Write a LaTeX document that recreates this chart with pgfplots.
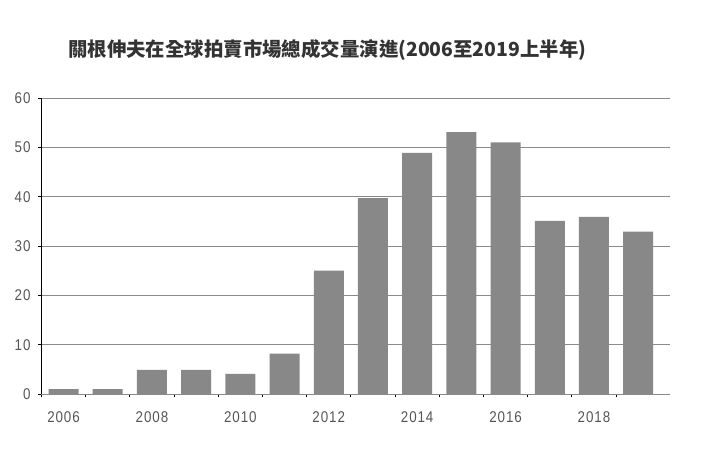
\documentclass[border=0pt]{standalone}
\usepackage{pgfplots}
\pgfplotsset{compat=1.18}
\usepackage{fontspec}
\setmainfont{Liberation Sans}
\newfontfamily\tickfont[FakeStretch=0.86,LetterSpace=6]{Liberation Sans}
\newfontfamily\cjk{Noto Sans CJK TC}
\definecolor{bargray}{HTML}{888888}
\definecolor{gridgray}{HTML}{8A8A8A}
\definecolor{labelgray}{HTML}{555555}
\definecolor{titlegray}{HTML}{333333}
\begin{document}
\begin{tikzpicture}[x=1bp,y=1bp]
\useasboundingbox (0,0) rectangle (712,451);
\begin{axis}[
  at={(41bp,57bp)}, anchor=south west,
  scale only axis, width=629bp, height=296bp,
  xmin=2005.49, xmax=2019.72, ymin=0, ymax=60,
  axis x line*=bottom, axis y line*=left,
  axis line style={-},
  x axis line style={gridgray, line width=0.9bp},
  y axis line style={black, line width=1bp},
  ymajorgrids, grid style={gridgray, line width=0.9bp},
  xtick={2006,2008,...,2018},
  minor xtick={2005.5,2006.5,...,2018.5},
  ytick={0,10,...,60},
  tick align=outside,
  major tick length=3bp, minor tick length=3.5bp,
  major x tick style={draw=none},
  minor x tick style={black, line width=0.8bp},
  major y tick style={black, line width=0.8bp},
  /pgf/number format/assume math mode=true,
  /pgf/number format/1000 sep={},
  tick label style={font=\tickfont\fontsize{15.6}{16}\selectfont, text=labelgray},
  x tick label style={anchor=base, yshift=-26bp},
  y tick label style={xshift=-4bp},
  ybar, bar width=30bp,
]
\addplot[fill=bargray, draw=none] coordinates {
  (2006,1) (2007,1) (2008,4.9) (2009,4.9) (2010,4.1) (2011,8.2) (2012,25)
  (2013,39.7) (2014,48.9) (2015,53.1) (2016,51) (2017,35.1) (2018,35.9) (2019,32.9)
};
\end{axis}
\node[anchor=west, inner sep=0pt, font=\cjk\bfseries\fontsize{19.5}{20}\selectfont, text=titlegray] at (68,401) {關根伸夫在全球拍賣市場總成交量演進(2006至2019上半年)};
\end{tikzpicture}
\end{document}
